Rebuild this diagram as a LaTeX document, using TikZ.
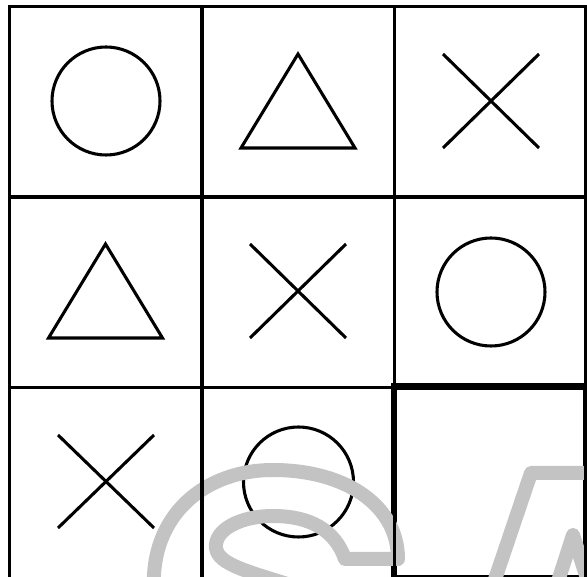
\documentclass[tikz,border=0pt]{standalone}
\usepackage{xcolor}
\definecolor{wmgrey}{RGB}{195,195,195}
\begin{document}
\begin{tikzpicture}[x=0.75pt,y=-0.75pt,
  gridline/.style={line width=2.3pt,black},
  shapeline/.style={line width=2.3pt,black,line join=miter},
  boldbox/.style={line width=5.2pt,black},
  watermark/.style={line width=10.5pt,wmgrey,line join=round,line cap=round}]
\useasboundingbox (0,0) rectangle (587,577);
\clip (0,0) rectangle (587,577);
% row 1
\draw[shapeline] (106,101) circle (54);
\draw[shapeline] (298,54) -- (355,148) -- (241,148) -- cycle;
\draw[shapeline] (443,54) -- (539,148) (539,54) -- (443,148);
% row 2
\draw[shapeline] (105.5,244) -- (162.5,338) -- (48.5,338) -- cycle;
\draw[shapeline] (250,244) -- (346,338) (346,244) -- (250,338);
\draw[shapeline] (491,292) circle (54);
% row 3
\draw[shapeline] (58,435) -- (154,528) (154,435) -- (58,528);
\draw[shapeline] (298.5,482) circle (55);
% highlighted cell
\draw[boldbox] (394,386.5) rectangle (586,578);
% watermark letters
\draw[watermark] (154,590) .. controls (150,515) and (205,470) .. (273,470)
  .. controls (345,470) and (398,505) .. (398,559) -- (345,559)
  .. controls (335,530) and (310,516) .. (273,516)
  .. controls (240,516) and (214,530) .. (216,548)
  .. controls (218,565) and (250,572) .. (300,588);
\draw[watermark] (488,600) -- (531,473) -- (610,473);
\draw[watermark] (552,600) -- (573,535) -- (594,600);
% grid
\draw[gridline] (9.5,5) -- (9.5,600);
\draw[gridline] (202,6.5) -- (202,600);
\draw[gridline] (394.5,6.5) -- (394.5,600);
\draw[gridline] (585.5,6.5) -- (585.5,600);
\draw[gridline] (8,6.5) -- (600,6.5);
\draw[gridline] (9.5,197) -- (600,197);
\draw[gridline] (9.5,387.5) -- (600,387.5);
\end{tikzpicture}
\end{document}
